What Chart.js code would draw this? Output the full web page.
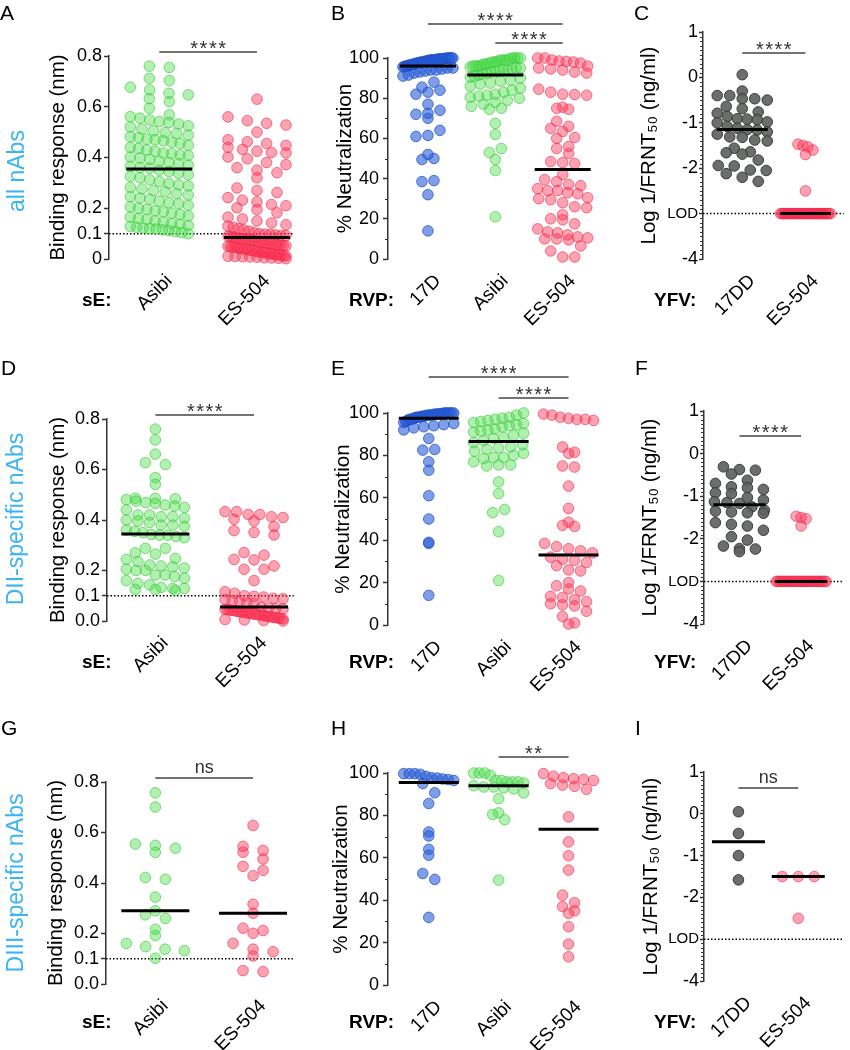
<!DOCTYPE html>
<html>
<head>
<meta charset="utf-8">
<script src="https://cdn.jsdelivr.net/npm/chart.js@4.4.1/dist/chart.umd.min.js"></script>
<style>
html, body { margin: 0; padding: 0; background: #fff; }
#fig { position: relative; width: 850px; height: 1050px; overflow: hidden; font-family: "Liberation Sans", Arial, Helvetica, sans-serif; }
#fig canvas { position: absolute; }
.lbl { position: absolute; white-space: nowrap; line-height: 1; color: #000; }
.letter { font-size: 21px; }
.row { font-size: 23px; line-height: 24px; height: 24px; width: 240px; text-align: center; color: #3db4f2; transform: rotate(-90deg); }
.pre { font-size: 19px; font-weight: bold; transform: translateY(-50%); }
</style>
</head>
<body>
<div id="fig"></div>
<script>
// ---- categories & ticks ----
const catsSE = ['Asibi', 'ES-504'];
const catsRVP = ['17D', 'Asibi', 'ES-504'];
const catsYFV = ['17DD', 'ES-504'];

const bindTicks = [0, 0.1, 0.2, 0.4, 0.6, 0.8];
const bindLabelsA = ['0', '0.1', '0.2', '0.4', '0.6', '0.8'];
const bindLabelsDG = ['0.0', '0.1', '0.2', '0.4', '0.6', '0.8'];
const neutTicks = [0, 20, 40, 60, 80, 100];
const neutLabels = ['0', '20', '40', '60', '80', '100'];
const neutMinor = [10, 30, 50, 70, 90];
const logTicks = [-4, -3, -2, -1, 0, 1];
const logLabels = ['-4', 'LOD', '-2', '-1', '0', '1'];

// ---- all nAbs ----
const allBindAsibi = [0.76, 0.755, 0.712, 0.703, 0.677, 0.666, 0.653, 0.647, 0.632, 0.62, 0.594, 0.568, 0.561, 0.555, 0.548, 0.542, 0.538, 0.532, 0.525, 0.52, 0.512, 0.505, 0.498, 0.495, 0.488, 0.482, 0.478, 0.472, 0.47, 0.466, 0.46, 0.455, 0.448, 0.44, 0.436, 0.43, 0.425, 0.418, 0.415, 0.41, 0.408, 0.402, 0.398, 0.392, 0.385, 0.38, 0.376, 0.37, 0.365, 0.36, 0.358,
  0.35, 0.345, 0.338, 0.332, 0.326, 0.32, 0.312, 0.305, 0.298, 0.292, 0.288, 0.282, 0.276, 0.27, 0.265, 0.258, 0.252, 0.246, 0.24, 0.235, 0.228, 0.222, 0.218, 0.212, 0.206, 0.2, 0.195, 0.19, 0.186, 0.18, 0.175, 0.17, 0.165, 0.16, 0.156, 0.15, 0.146, 0.14, 0.136, 0.132, 0.128, 0.125, 0.122, 0.12, 0.118, 0.115, 0.112, 0.108, 0.104, 0.1];
const allBindES504 = [0.63, 0.56, 0.545, 0.535, 0.528, 0.5, 0.47, 0.462, 0.455, 0.448, 0.44, 0.432, 0.425, 0.42, 0.418, 0.402, 0.395, 0.38, 0.372, 0.36, 0.35, 0.34, 0.32, 0.28, 0.27, 0.262, 0.242, 0.232, 0.225, 0.215, 0.21, 0.202, 0.195, 0.182, 0.165, 0.158, 0.15, 0.142, 0.135, 0.13, 0.125, 0.12, 0.115, 0.11, 0.104,
  0.1, 0.098, 0.097, 0.095, 0.093, 0.092, 0.09, 0.088, 0.087,
  0.083, 0.082, 0.08, 0.079, 0.077, 0.075, 0.074, 0.072, 0.07, 0.068, 0.066, 0.065, 0.063, 0.061, 0.06, 0.058, 0.056, 0.055, 0.053, 0.052, 0.05, 0.048, 0.047, 0.045, 0.043, 0.042, 0.04, 0.038, 0.037, 0.035, 0.033, 0.032, 0.03, 0.028, 0.027, 0.025, 0.024, 0.022, 0.02, 0.019, 0.017, 0.016, 0.015, 0.013, 0.012, 0.011, 0.01, 0.009, 0.008, 0.007, 0.005, 0.004, 0.003, 0.001];
const allNeut17D = [14, 32, 38.5, 39, 49.5, 50, 52, 61, 61.5, 64, 70, 72, 72.5, 74, 77, 82, 83, 84, 85.5, 88, 91, 91.5, 92.5, 93, 93.5, 94, 94, 94.5, 95, 95, 95.5, 95.8, 96, 96, 96.5, 96.5, 96.8, 97, 97, 97.5, 97.5, 97.8, 98, 98, 98, 98.5, 98.5, 98.8, 99, 99, 99, 99, 99.2, 99.5, 99.5, 99.5, 99.6, 99.7, 99.8, 100, 100, 100, 100, 100];
const allNeutAsibi = [21, 44, 49.5, 53, 55, 62, 67.5, 74.5, 75, 76, 77, 78, 79, 80, 80.5, 81, 81.5, 82, 83, 84, 85, 86, 87, 87.5, 88.5, 89, 90, 90.5, 91, 91.5, 92, 92.5, 93, 93, 93.5, 94, 94, 94.5, 95, 95, 95.5, 96, 96, 96, 96.5, 97, 97, 97.5, 98, 98, 98.5, 99, 99, 99, 99.5, 100, 100, 100, 100];
const allNeutES504 = [100, 100, 99, 98.5, 98.3, 98, 97.5, 96, 95, 94.5, 94, 93, 92.5, 84.5, 83, 82, 81.8, 81.5, 75.5, 75, 74.5, 68.5, 66, 65, 63.5, 60.5, 60, 56, 55, 52.5, 48.5, 48, 47.5, 42, 39.5, 38.5, 37, 36.5, 35, 34, 34, 33, 32.5, 30.5, 30, 29.5, 28, 26, 25.5, 22, 20, 19.5, 17.5, 15, 13.5, 13, 12, 11, 10.5, 10, 10, 9.5, 6.5, 4, 1, 1];
const allFrnt17DD = [0.06, -0.3, -0.4, -0.4, -0.47, -0.47, -0.5, -0.64, -0.69, -0.76, -0.79, -0.86, -0.91, -0.92, -0.93, -0.98, -1.0, -1.08, -1.12, -1.15, -1.16, -1.2, -1.25, -1.31, -1.32, -1.38, -1.4, -1.56, -1.64, -1.66, -1.69, -1.82, -1.94, -1.95, -2.04, -2.05, -2.12, -2.2, -2.29];
const allFrntES504 = [-1.47, -1.5, -1.53, -1.6, -1.7, -2.5,
  -3, -3, -3, -3, -3, -3, -3, -3, -3, -3, -3,
  -3, -3, -3, -3, -3, -3, -3, -3, -3, -3, -3,
  -3, -3, -3, -3, -3, -3, -3, -3, -3, -3, -3];

// ---- DII-specific nAbs ----
const diiBindAsibi = [0.76, 0.717, 0.661, 0.627, 0.62, 0.568, 0.541, 0.486, 0.486, 0.484, 0.481, 0.475, 0.469, 0.466, 0.459, 0.455, 0.45, 0.44, 0.42, 0.42, 0.413, 0.413, 0.407, 0.4, 0.396, 0.39, 0.38, 0.38, 0.375, 0.36, 0.355, 0.35,
  0.343, 0.34, 0.34, 0.335, 0.33, 0.288, 0.288, 0.27, 0.265, 0.248, 0.244, 0.235, 0.222, 0.218, 0.215, 0.21, 0.205, 0.2, 0.2, 0.182, 0.182, 0.176, 0.169, 0.16, 0.149, 0.143, 0.133, 0.129, 0.129, 0.125, 0.125, 0.122];
const diiBindES504 = [0.433, 0.433, 0.422, 0.422, 0.413, 0.41, 0.403, 0.396, 0.374, 0.358, 0.351, 0.341, 0.271, 0.261, 0.244, 0.242, 0.218, 0.205, 0.205, 0.16, 0.116, 0.11,
  0.1, 0.098, 0.095, 0.09, 0.088, 0.085, 0.08, 0.078, 0.072, 0.07,
  0.054, 0.052, 0.05, 0.048, 0.046, 0.045, 0.043, 0.042, 0.04, 0.038, 0.036, 0.035, 0.033, 0.032, 0.03, 0.028, 0.027, 0.025, 0.024, 0.022, 0.02, 0.018, 0.017, 0.015, 0.013, 0.012, 0.01, 0.008, 0.006, 0.004, 0.002, 0.0];
const diiNeut17D = [14, 38.5, 39, 50, 61, 73, 77, 82.5, 82.8, 88, 92, 93, 93.5, 94, 94.5, 95, 95.5, 96, 96.5, 97, 97, 97.3, 97.8, 98, 98, 98.2, 98.5, 98.5, 98.8, 99, 99, 99, 99.3, 99.5, 99.5, 99.5, 99.7, 99.8, 100, 100, 100, 100, 100, 100];
const diiNeutAsibi = [21, 44, 53, 54.5, 62, 67.5, 75, 75.5, 75.5, 77, 78.5, 79, 79, 80, 81, 82, 83, 83.5, 84, 85, 86, 87, 88, 88.5, 89.5, 90.5, 91, 91.5, 92, 92.5, 93.5, 94, 94.5, 95, 95.5, 96, 96.5, 97, 97.5, 98, 99, 100];
const diiNeutES504 = [99.5, 99, 98, 97.5, 97, 97, 96.5, 84, 81.5, 81, 75, 74.5, 65.5, 55, 48.5, 47, 46.5, 38.5, 37, 36, 35, 34, 32, 31, 30.5, 29.5, 28, 26, 25.5, 20, 18.5, 17, 16, 13.5, 13, 12, 11, 10, 9.5, 9, 6.5, 4, 1, 0.5];
const diiFrnt17DD = [-0.31, -0.375, -0.39, -0.48, -0.625, -0.7, -0.78, -0.8, -0.84, -0.92, -0.94, -1.03, -1.09, -1.13, -1.15, -1.17, -1.25, -1.33, -1.35, -1.37, -1.39, -1.4, -1.62, -1.66, -1.7, -1.8, -1.95, -2.03, -2.17, -2.23, -2.24, -2.3];
const diiFrntES504 = [-1.47, -1.5, -1.53, -1.7,
  -3, -3, -3, -3, -3, -3, -3, -3, -3, -3, -3, -3, -3, -3,
  -3, -3, -3, -3, -3, -3, -3, -3, -3, -3, -3, -3, -3, -3];

// ---- DIII-specific nAbs ----
const diiiBindAsibi = [0.757, 0.701, 0.554, 0.549, 0.538, 0.521, 0.422, 0.415, 0.344, 0.29, 0.274, 0.26, 0.217, 0.192, 0.161, 0.148, 0.138, 0.132, 0.102];
const diiiBindES504 = [0.628, 0.545, 0.529, 0.522, 0.495, 0.466, 0.45, 0.429, 0.316, 0.28, 0.221, 0.212, 0.201, 0.161, 0.138, 0.128, 0.111, 0.053, 0.049];
const diiiNeut17D = [99.7, 99.7, 99.7, 99.4, 98.4, 97.8, 97.6, 97.2, 96.9, 96.5, 95, 90.7, 85.6, 72.2, 70.3, 64, 61.2, 52.6, 49.8, 31.9];
const diiiNeutAsibi = [100, 100, 100, 98.9, 96.5, 96.5, 95.8, 95.8, 95.8, 95.3, 94, 93.4, 93.4, 93, 92.5, 90.6, 87.9, 81.2, 80.4, 78, 49.5];
const diiiNeutES504 = [99.7, 98.5, 97.8, 97.3, 97, 96.5, 95, 94.3, 93.7, 92.3, 79.3, 67.5, 61, 54.2, 42.4, 38.8, 37, 35, 33.8, 27.5, 19.3, 13.3];
const diiiFrnt17DD = [0.05, -0.47, -1.0, -1.58];
const diiiFrntES504 = [-1.5, -1.5, -1.5, -2.5];

// ---- medians (horizontal bars) ----
const medA = [0.355, 0.085];
const medB = [96, 91.5, 44.5];
const medC = [-1.15, -3];
const medD = [0.345, 0.055];
const medE = [97.5, 86.5, 33];
const medF = [-1.2, -3];
const medG = [0.29, 0.28];
const medH = [95.5, 94, 73.5];
const medI = [-0.67, -1.5];

const FONT = '"Liberation Sans", Arial, Helvetica, sans-serif';
Chart.defaults.font.family = FONT;
Chart.defaults.color = '#000';

const GREEN = { fill: 'rgba(70,220,70,0.42)', line: 'rgba(50,200,50,0.6)' };
const RED = { fill: 'rgba(255,50,85,0.45)', line: 'rgba(235,40,75,0.6)' };
const BLUE = { fill: 'rgba(40,95,215,0.6)', line: 'rgba(30,75,200,0.7)' };
const GRAY = { fill: 'rgba(95,98,96,0.92)', line: 'rgba(55,57,56,0.95)' };

const logMinor = [];
for (let v = -40; v <= 10; v++) if (v % 10 !== 0) logMinor.push(v / 10);

const bindAxis = { min: 0, max: 0.8, ticks: bindTicks, tickLen: 5, pad: 2, lod: 0.1, minor: [], title: 'Binding response (nm)' };
const neutAxis = { min: 0, max: 100, ticks: neutTicks, labels: neutLabels, tickLen: 5, pad: 4, lod: null, minor: neutMinor, title: '% Neutralization' };
const logAxis = { min: -4, max: 1, ticks: logTicks, labels: logLabels, tickLen: 4, pad: 1, lod: -3, minor: logMinor, title: 'Log 1/FRNT\u2085\u2080 (ng/ml)' };

// swarm: [max half-width px, max spacing px per group]
const panels = [
  { key: 'A', canvas: [0, 0, 300, 345], area: [109, 56, 300, 259], xr: [0.485, 2.376], ax: bindAxis, labels: bindLabelsA, titleX: 58,
    cats: catsSE, series: [allBindAsibi, allBindES504], colors: [GREEN, RED], med: medA, medHalf: 33, sig: [[1, 2, '****', -4]], swarm: [29, [20, 20]] },
  { key: 'B', canvas: [300, 0, 300, 345], area: [388, 58, 593, 259], xr: [0.407, 3.45], ax: neutAxis, titleX: 345,
    cats: catsRVP, series: [allNeut17D, allNeutAsibi, allNeutES504], colors: [BLUE, GREEN, RED], med: medB, medHalf: 28, sig: [[1, 3, '****', -34], [2, 3, '****', -15]], swarm: [25, [12, 12, 12]] },
  { key: 'C', canvas: [590, 0, 260, 345], area: [703, 32, 850, 259], xr: [0.379, 2.606], ax: logAxis, titleX: 649,
    cats: catsYFV, series: [allFrnt17DD, allFrntES504], colors: [GRAY, RED], med: medC, medHalf: 25.5, sig: [[1, 2, '****', 21]], swarm: [25, [16, 5]] },
  { key: 'D', canvas: [0, 345, 300, 355], area: [107, 419, 300, 621], xr: [0.51, 2.402], ax: bindAxis, labels: bindLabelsDG, titleX: 58,
    cats: catsSE, series: [diiBindAsibi, diiBindES504], colors: [GREEN, RED], med: medD, medHalf: 34, sig: [[1, 2, '****', -4]], swarm: [29, [20, 20]] },
  { key: 'E', canvas: [300, 345, 300, 355], area: [388, 413, 600, 625], xr: [0.417, 3.36], ax: neutAxis, titleX: 343.5,
    cats: catsRVP, series: [diiNeut17D, diiNeutAsibi, diiNeutES504], colors: [BLUE, GREEN, RED], med: medE, medHalf: 30, sig: [[1, 3, '****', -36], [2, 3, '****', -15]], swarm: [25, [12, 12, 12]] },
  { key: 'F', canvas: [590, 345, 260, 355], area: [704, 411, 850, 624], xr: [0.426, 2.69], ax: logAxis, titleX: 650,
    cats: catsYFV, series: [diiFrnt17DD, diiFrntES504], colors: [GRAY, RED], med: medF, medHalf: 26, sig: [[1, 2, '****', 25]], swarm: [25, [16, 5]] },
  { key: 'G', canvas: [0, 700, 300, 350], area: [106, 782, 300, 984], xr: [0.495, 2.416], ax: bindAxis, labels: bindLabelsDG, titleX: 56.5,
    cats: catsSE, series: [diiiBindAsibi, diiiBindES504], colors: [GREEN, RED], med: medG, medHalf: 34, sig: [[1, 2, 'ns', -4]], swarm: [29, [20, 20]] },
  { key: 'H', canvas: [300, 700, 300, 350], area: [388, 773, 600, 985], xr: [0.417, 3.36], ax: neutAxis, titleX: 341.5,
    cats: catsRVP, series: [diiiNeut17D, diiiNeutAsibi, diiiNeutES504], colors: [BLUE, GREEN, RED], med: medH, medHalf: 30, sig: [[2, 3, '**', -16]], swarm: [25, [12, 12, 12]] },
  { key: 'I', canvas: [590, 700, 260, 350], area: [704, 772, 850, 981], xr: [0.424, 2.76], ax: logAxis, titleX: 651,
    cats: catsYFV, series: [diiiFrnt17DD, diiiFrntES504], colors: [GRAY, RED], med: medI, medHalf: 26.5, sig: [[1, 2, 'ns', 16]], swarm: [25, [16, 16]] }
];

const fig = document.getElementById('fig');

function addLabel(text, cls, left, top) {
  const d = document.createElement('div');
  d.className = 'lbl ' + cls;
  d.textContent = text;
  d.style.left = left + 'px';
  d.style.top = top + 'px';
  fig.appendChild(d);
}

function makeDeco(p) {
  return {
    id: 'deco' + p.key,
    beforeDatasetsDraw(chart) {
      if (p.ax.lod == null) return;
      const { ctx, chartArea: a, scales: { y } } = chart;
      const py = y.getPixelForValue(p.ax.lod);
      ctx.save();
      ctx.strokeStyle = '#000';
      ctx.lineWidth = 1.5;
      ctx.setLineDash([1.5, 2]);
      ctx.beginPath();
      ctx.moveTo(a.left, py);
      ctx.lineTo(a.right, py);
      ctx.stroke();
      ctx.restore();
    },
    afterDatasetsDraw(chart) {
      const { ctx, chartArea: a, scales: { x, y } } = chart;
      ctx.save();
      // minor ticks
      ctx.strokeStyle = '#333';
      ctx.lineWidth = 1;
      p.ax.minor.forEach(v => {
        const py = Math.round(y.getPixelForValue(v)) + 0.5;
        ctx.beginPath();
        ctx.moveTo(a.left - 3, py);
        ctx.lineTo(a.left, py);
        ctx.stroke();
      });
      // medians
      ctx.strokeStyle = '#000';
      ctx.lineWidth = 3;
      p.med.forEach((m, i) => {
        const cx = x.getPixelForValue(i + 1), py = y.getPixelForValue(m);
        ctx.beginPath();
        ctx.moveTo(cx - p.medHalf, py);
        ctx.lineTo(cx + p.medHalf, py);
        ctx.stroke();
      });
      // significance bars
      p.sig.forEach(([from, to, label, off]) => {
        const by = a.top + off;
        const x1 = x.getPixelForValue(from), x2 = x.getPixelForValue(to);
        ctx.strokeStyle = '#444';
        ctx.lineWidth = 1.5;
        ctx.beginPath();
        ctx.moveTo(x1, by);
        ctx.lineTo(x2, by);
        ctx.stroke();
        ctx.fillStyle = '#333';
        ctx.textAlign = 'center';
        ctx.textBaseline = 'alphabetic';
        if (label[0] === '*') {
          ctx.font = '20px ' + FONT;
          ctx.letterSpacing = '1.5px';
          ctx.fillText(label, (x1 + x2) / 2 + 0.75, by + 2.7);
          ctx.letterSpacing = '0px';
        } else {
          ctx.font = '18px ' + FONT;
          ctx.fillText(label, (x1 + x2) / 2, by - 5);
        }
      });
      ctx.restore();
    }
  };
}

function layoutSwarm(chart, p) {
  const xs = chart.scales.x, ys = chart.scales.y;
  const k = xs.getPixelForValue(2) - xs.getPixelForValue(1);
  const [half, steps] = p.swarm;
  chart.data.datasets.forEach((ds, gi) => {
    const bins = new Map();
    ds.data.forEach(pt => {
      const b = Math.floor((ys.getPixelForValue(pt.y) - chart.chartArea.top) / 10);
      if (!bins.has(b)) bins.set(b, []);
      bins.get(b).push(pt);
    });
    bins.forEach(pts => {
      const n = pts.length;
      const step = n > 1 ? Math.min(steps[gi], 2 * half / (n - 1)) : 0;
      pts.forEach((pt, j) => { pt.x = gi + 1 + (j - (n - 1) / 2) * step / k; });
    });
  });
  chart.update('none');
}

panels.forEach(p => {
  const [cl, ct, cw, ch] = p.canvas;
  const [al, at, ar, ab] = p.area;
  const cv = document.createElement('canvas');
  cv.width = cw;
  cv.height = ch;
  cv.style.left = cl + 'px';
  cv.style.top = ct + 'px';
  fig.appendChild(cv);
  const yLabels = p.labels || p.ax.labels;

  const datasets = p.series.map((vals, i) => ({
    data: vals.map(v => ({ x: i + 1, y: v })),
    backgroundColor: p.colors[i].fill,
    borderColor: p.colors[i].line,
    borderWidth: 1,
    pointRadius: 5.3,
    pointHoverRadius: 5.3,
    clip: false
  }));

  const chart = new Chart(cv, {
    type: 'scatter',
    data: { datasets },
    options: {
      responsive: false,
      animation: false,
      events: [],
      layout: { padding: { left: 0, top: at - ct, right: cl + cw - ar, bottom: 0 } },
      plugins: { legend: { display: false }, tooltip: { enabled: false } },
      scales: {
        x: {
          type: 'linear',
          min: p.xr[0],
          max: p.xr[1],
          afterBuildTicks: s => { s.ticks = p.cats.map((c, i) => ({ value: i + 1 })); },
          afterFit: s => { s.height = ct + ch - ab; },
          grid: { display: false, drawTicks: false },
          border: { display: false },
          ticks: {
            autoSkip: false, minRotation: 45, maxRotation: 45, padding: 11, labelOffset: 10,
            font: { size: 19 }, color: '#000',
            callback: v => p.cats[Math.round(v) - 1]
          }
        },
        y: {
          min: p.ax.min,
          max: p.ax.max,
          afterBuildTicks: s => { s.ticks = p.ax.ticks.map(v => ({ value: v })); },
          afterFit: s => { s.width = al - cl; },
          grid: { drawOnChartArea: false, drawTicks: true, tickLength: p.ax.tickLen, tickWidth: 1.5, tickColor: '#333' },
          border: { display: true, color: '#333', width: 1.5 },
          ticks: {
            padding: p.ax.pad,
            color: '#000',
            font: c => ({ size: yLabels[c.index] === 'LOD' ? 15 : 18 }),
            callback: (v, i) => yLabels[i]
          },
          title: {
            display: true, text: p.ax.title, color: '#000', font: { size: 20.5 },
            padding: { top: p.titleX - cl - 12.3, bottom: 0 }
          }
        }
      }
    },
    plugins: [makeDeco(p)]
  });
  layoutSwarm(chart, p);
});

// panel letters
[['A', 0, 20], ['B', 331, 20], ['C', 634, 20], ['D', 1, 375], ['E', 331, 375], ['F', 635, 375], ['G', 1, 735], ['H', 331, 735], ['I', 635, 735]]
  .forEach(([t, x, base]) => addLabel(t, 'letter', x, base - 0.8465 * 21));

// row labels (box 240x24 rotated about its centre)
[['all nAbs', 16, 171], ['DII-specific nAbs', 15, 519], ['DIII-specific nAbs', 15, 883]]
  .forEach(([t, x, y]) => addLabel(t, 'row', x - 120, y - 12));

// category prefixes
[299, 661, 1021].forEach(y => {
  addLabel('sE:', 'pre', 82, y);
  addLabel('RVP:', 'pre', 349, y);
  addLabel('YFV:', 'pre', 654, y);
});
</script>
</body>
</html>
